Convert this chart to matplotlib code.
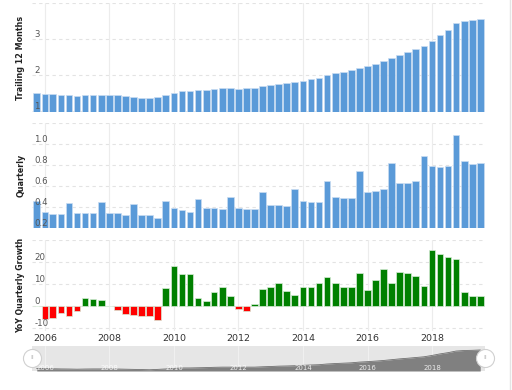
import numpy as np
import pandas as pd
import matplotlib
matplotlib.use('Agg')
import matplotlib.pyplot as plt
import matplotlib.dates as mdates
from matplotlib.lines import Line2D

# ---------------- data ----------------
quarter_ends = [
    '2005-09-30', '2005-12-31',
    '2006-03-31', '2006-06-30', '2006-09-30', '2006-12-31',
    '2007-03-31', '2007-06-30', '2007-09-30', '2007-12-31',
    '2008-03-31', '2008-06-30', '2008-09-30', '2008-12-31',
    '2009-03-31', '2009-06-30', '2009-09-30', '2009-12-31',
    '2010-03-31', '2010-06-30', '2010-09-30', '2010-12-31',
    '2011-03-31', '2011-06-30', '2011-09-30', '2011-12-31',
    '2012-03-31', '2012-06-30', '2012-09-30', '2012-12-31',
    '2013-03-31', '2013-06-30', '2013-09-30', '2013-12-31',
    '2014-03-31', '2014-06-30', '2014-09-30', '2014-12-31',
    '2015-03-31', '2015-06-30', '2015-09-30', '2015-12-31',
    '2016-03-31', '2016-06-30', '2016-09-30', '2016-12-31',
    '2017-03-31', '2017-06-30', '2017-09-30', '2017-12-31',
    '2018-03-31', '2018-06-30', '2018-09-30', '2018-12-31',
    '2019-03-31', '2019-06-30',
]

trailing_12m = [
    1.51, 1.49, 1.47, 1.45, 1.44, 1.42, 1.44, 1.45, 1.45, 1.45,
    1.44, 1.42, 1.40, 1.38, 1.36, 1.40, 1.45, 1.51, 1.56, 1.56,
    1.58, 1.60, 1.63, 1.65, 1.65, 1.63, 1.65, 1.65, 1.69, 1.72,
    1.76, 1.78, 1.81, 1.85, 1.89, 1.92, 2.00, 2.05, 2.09, 2.13,
    2.21, 2.26, 2.32, 2.39, 2.48, 2.57, 2.64, 2.72, 2.80, 2.95,
    3.12, 3.26, 3.44, 3.50, 3.52, 3.56,
]

quarterly = [
    0.46, 0.35, 0.33, 0.33, 0.44, 0.34, 0.34, 0.34, 0.45, 0.34,
    0.34, 0.32, 0.43, 0.32, 0.32, 0.30, 0.46, 0.39, 0.37, 0.35,
    0.48, 0.39, 0.39, 0.38, 0.50, 0.39, 0.38, 0.38, 0.54, 0.42,
    0.42, 0.41, 0.57, 0.46, 0.45, 0.45, 0.65, 0.50, 0.49, 0.49,
    0.74, 0.54, 0.55, 0.57, 0.82, 0.63, 0.63, 0.65, 0.89, 0.79,
    0.78, 0.79, 1.09, 0.84, 0.81, 0.82,
]

yoy_growth = [
    np.nan, -5.8, -5.5, -3.0, -4.5, -2.4, 3.8, 3.0, 2.7, 0.2,
    -1.7, -3.6, -4.0, -4.8, -4.8, -6.4, 8.2, 18.3, 14.4, 14.7,
    3.8, 2.1, 6.5, 8.5, 4.7, -1.2, -2.1, 0.9, 7.6, 8.5,
    10.3, 7.0, 5.0, 8.5, 8.8, 10.6, 13.3, 10.6, 8.8, 8.5,
    15.2, 7.3, 12.0, 16.8, 10.6, 15.6, 14.8, 13.6, 8.9, 25.5,
    23.8, 22.1, 21.2, 6.5, 4.4, 4.4,
]

year_labels = ['2006', '2008', '2010', '2012', '2014', '2016', '2018']

top_ticks = [1, 2, 3, 4]
mid_ticks = [0.2, 0.4, 0.6, 0.8, 1.0, 1.2]
bot_ticks = [-10, 0, 10, 20, 30]

panel_labels = ['Trailing 12 Months', 'Quarterly', 'YoY Quarterly Growth']

# ---------------- style ----------------
W, H = 512, 390
BLUE = '#5a9ad8'
GREEN = '#008000'
RED = '#ff0000'
GRID = '#e3e3e3'
VGRID = '#ececec'
TXT = '#555555'

x = mdates.date2num(pd.to_datetime(quarter_ends))
xyears = mdates.date2num(pd.to_datetime([y + '-01-01' for y in year_labels]))
xlim = (mdates.date2num(pd.Timestamp('2005-08-07')),
        mdates.date2num(pd.Timestamp('2019-08-23')))
bw = 76  # days

fig = plt.figure(figsize=(W / 100, H / 100), dpi=100)
fig.patch.set_facecolor('white')

def px_axes(top, bottom, left=32, right=485):
    return fig.add_axes([left / W, 1 - bottom / H, (right - left) / W, (bottom - top) / H])

ax1 = px_axes(3, 112)
ax2 = px_axes(123, 228)
ax3 = px_axes(240, 331)
axn = px_axes(346, 371)

def style_panel(ax, ticks, ylim, fmt, show_x=False):
    ax.set_xlim(*xlim)
    ax.set_ylim(*ylim)
    for s in ax.spines.values():
        s.set_visible(False)
    for t in ticks:
        ax.axhline(t, color=GRID, lw=0.8, ls=(0, (3, 3)), zorder=0)
    for xv in xyears:
        ax.axvline(xv, color=VGRID, lw=0.8, zorder=0)
    ax.set_yticks(ticks)
    ax.set_yticklabels([fmt(t) if t != ticks[-1] else '' for t in ticks])
    ax.tick_params(axis='y', length=0, pad=-1.8, labelsize=6.2, colors=TXT)
    for lbl in ax.get_yticklabels():
        lbl.set_ha('left')
        lbl.set_va('bottom')
    if show_x:
        ax.set_xticks(xyears)
        ax.set_xticklabels(year_labels)
        ax.tick_params(axis='x', length=0, pad=2, labelsize=6.8, colors='#333333')
    else:
        ax.set_xticks([])

style_panel(ax1, top_ticks, (0.98, 4.0), lambda v: f'{v:d}')
ax1.bar(x, trailing_12m, width=bw, bottom=0, color=BLUE, edgecolor='#c9dcf2', lw=0.5, zorder=2)

style_panel(ax2, mid_ticks, (0.2, 1.2), lambda v: f'{v:.1f}')
ax2.bar(x, quarterly, width=bw, color=BLUE, edgecolor='#c9dcf2', lw=0.5, zorder=2)

style_panel(ax3, bot_ticks, (-11.4, 30), lambda v: f'{v:d}', show_x=True)
g = np.array(yoy_growth, dtype=float)
cols = [GREEN if (not np.isnan(v) and v >= 0) else RED for v in g]
ax3.bar(x, np.nan_to_num(g), width=bw, color=cols, edgecolor='#d8ecd8', lw=0.5, zorder=2)

for ax in (ax1, ax2, ax3):
    ax.yaxis.set_zorder(5)

# panel labels
for ax, lab, fs in zip((ax1, ax2, ax3), panel_labels, (5.8, 5.8, 5.6)):
    pos = ax.get_position()
    fig.text(21 / W, pos.y0 + pos.height / 2, lab, rotation=90, ha='center', va='center',
             fontsize=fs, fontweight='bold', color='#222222')

# navigator
axn.set_xlim(*xlim)
axn.set_ylim(1.22, 4.0)
axn.set_facecolor('#e6e6e6')
for s in axn.spines.values():
    s.set_visible(False)
axn.set_xticks([])
axn.set_yticks([])
for xv in xyears:
    axn.axvline(xv, color='#f2f2f2', lw=0.6, zorder=1)
axn.fill_between(x, trailing_12m, 1.22, color='#808080', lw=0, zorder=2)
axn.plot(x, trailing_12m, color='#6e6e6e', lw=0.6, zorder=3)
for xv, lab in zip(xyears, year_labels):
    axn.text(xv, 1.6, lab, ha='center', va='center', fontsize=5, color='white', alpha=0.85, zorder=4)
for xe in xlim:
    axn.plot([xe], [2.7], marker='o', ms=13, mfc='white', mec='#d0d0d0', mew=0.8,
             clip_on=False, zorder=10)
    axn.text(xe, 2.7, 'II', ha='center', va='center', fontsize=4.5, color='#bbbbbb',
             clip_on=False, zorder=11)

# right border line
fig.add_artist(Line2D([510 / W, 510 / W], [0, 1], color='#e4e4e4', lw=1))

fig.savefig('out.png', dpi=100)
